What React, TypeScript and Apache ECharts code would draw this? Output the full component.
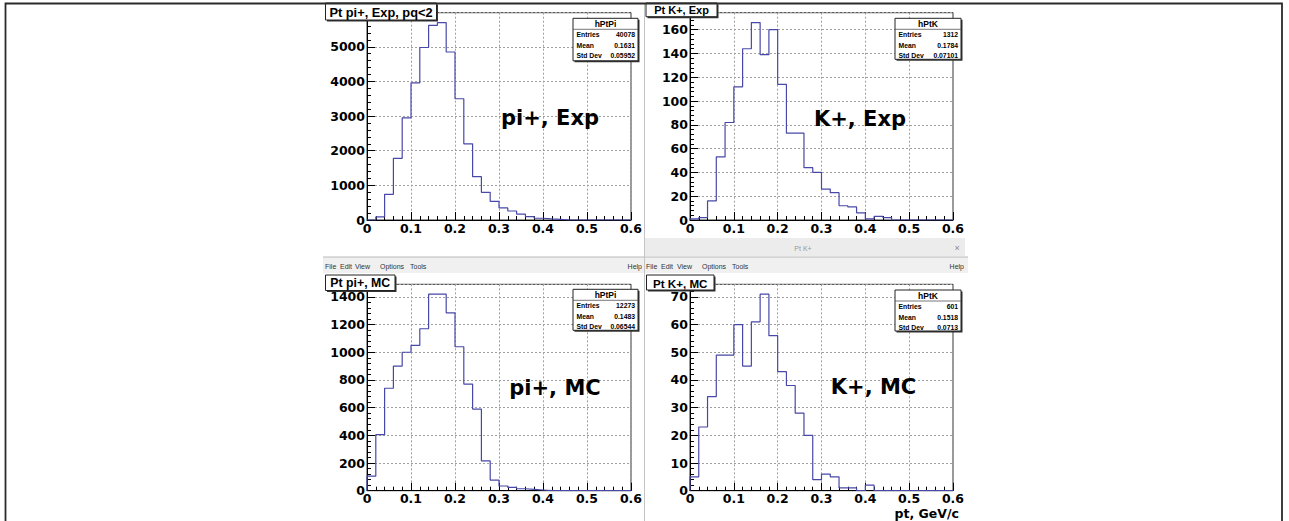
import React, { useEffect, useRef } from 'react';
import * as echarts from 'echarts';

// ---------------- data ----------------
const binEdges = [
  0, 0.02, 0.04, 0.06, 0.08, 0.1, 0.12, 0.14, 0.16, 0.18,
  0.2, 0.22, 0.24, 0.26, 0.28, 0.3, 0.32, 0.34, 0.36, 0.38,
  0.4, 0.42, 0.44, 0.46, 0.48, 0.5, 0.52, 0.54, 0.56, 0.58,
];
const xUpperEdge = 0.6;
const xTickStep = 0.1;

const piExpCounts = [
  0, 90, 740, 1780, 2950, 3960, 4980, 5620, 5700, 4850,
  3500, 2200, 1250, 800, 540, 350, 260, 170, 100, 50,
  30, 20, 0, 0, 0, 0, 0, 0, 0, 0,
];
const kExpCounts = [
  1, 2, 16, 53, 82, 112, 144, 166, 139, 160,
  114, 73, 73, 44, 40, 26, 23, 12, 11, 6,
  1, 3, 2, 0, 0, 0, 0, 0, 0, 0,
];
const piMcCounts = [
  105, 405, 740, 900, 1000, 1050, 1170, 1420, 1420, 1285,
  1040, 770, 590, 215, 77, 34, 24, 14, 10, 5,
  0, 0, 0, 0, 0, 0, 0, 0, 0, 0,
];
const kMcCounts = [
  5, 23, 34, 49, 49, 60, 45, 61, 71, 56,
  43, 38, 28, 20, 4, 6, 5, 1, 1, 0,
  2, 0, 0, 0, 0, 0, 0, 0, 0, 0,
];

const panelCounts = [piExpCounts, kExpCounts, piMcCounts, kMcCounts];
const panelTitles = ['Pt pi+, Exp, pq<2', 'Pt K+, Exp', 'Pt pi+, MC', 'Pt K+, MC'];
const panelLabels = ['pi+, Exp', 'K+, Exp', 'pi+, MC', 'K+, MC'];
const histNames = ['hPtPi', 'hPtK', 'hPtPi', 'hPtK'];
const statEntries = ['40078', '1312', '12273', '601'];
const statMeans = ['0.1631', '0.1784', '0.1483', '0.1518'];
const statStdDevs = ['0.05952', '0.07101', '0.06544', '0.0713'];
const statRowNames = ['Entries', 'Mean', 'Std Dev'];
const yMajorStep = [1000, 20, 200, 10];
const yMinorStep = [200, 4, 40, 2];
const xAxisTitle = 'pt, GeV/c';
const windowTitle = 'Pt K+';
const menuItems = ['File', 'Edit', 'View', 'Options', 'Tools'];
const helpItem = 'Help';

// ---------------- layout ----------------
const grids = [
  { left: 367, top: 12.7, width: 264, height: 207.3 },
  { left: 690, top: 12.7, width: 263, height: 207.3 },
  { left: 367, top: 284.3, width: 264, height: 206.4 },
  { left: 690, top: 284.3, width: 263, height: 206.4 },
];
const titleBoxes = [
  { x: 325.5, y: 3, w: 111, h: 17, fs: 12.8 },
  { x: 646, y: 3, w: 71, h: 13.7, fs: 11 },
  { x: 325.5, y: 275, w: 69.5, h: 15.5, fs: 12.3 },
  { x: 646.5, y: 275, w: 67.5, h: 15, fs: 11.6 },
];
const statBoxes = [
  { x: 573, y: 18.3, w: 65, h: 42.5 },
  { x: 895, y: 18.3, w: 66, h: 41 },
  { x: 573, y: 289.3, w: 65, h: 41 },
  { x: 895, y: 290, w: 66, h: 41 },
];
const labelPos = [
  { x: 550, y: 118 },
  { x: 860, y: 119 },
  { x: 555, y: 387.5 },
  { x: 873.5, y: 387 },
];
const leftMenuX = [325, 340, 355, 380, 410];
const rightMenuX = [646, 661, 677, 702, 732];

const LINE_COLOR = '#4848a8';
const GRID_COLOR = '#a0a0a0';
const BOLD_FONT = 'DejaVu Sans';

function histData(counts: number[]) {
  const pts: number[][] = [[binEdges[0], 0]];
  binEdges.forEach((e, i) => pts.push([e, counts[i]]));
  pts.push([xUpperEdge, 0]);
  return pts;
}

function boxWithShadow(x: number, y: number, w: number, h: number, z: number) {
  return [
    { type: 'rect', silent: true, z, shape: { x: x + 1.5, y: y + 1.5, width: w, height: h }, style: { fill: '#333' } },
    { type: 'rect', silent: true, z, shape: { x, y, width: w, height: h }, style: { fill: '#fff', stroke: '#222', lineWidth: 1 } },
  ];
}

function txt(text: string, x: number, y: number, opts: any) {
  return {
    type: 'text',
    silent: true,
    z: opts.z ?? 20,
    x,
    y,
    style: {
      text,
      fill: opts.fill ?? '#000',
      fontSize: opts.fontSize,
      fontFamily: opts.fontFamily ?? 'Liberation Sans',
      fontWeight: opts.fontWeight ?? 'normal',
      align: opts.align ?? 'left',
      verticalAlign: 'middle',
      textAlign: opts.align ?? 'left',
      textVerticalAlign: 'middle',
    },
  };
}

const plainNumber = (v: number) => String(Math.round(v * 1000) / 1000);

function buildOption() {
  const xAxis: any[] = [];
  const yAxis: any[] = [];
  const series: any[] = [];
  const graphic: any[] = [];

  const labelStyle = { color: '#000', fontFamily: BOLD_FONT, fontWeight: 'bold', fontSize: 12.5 };

  panelCounts.forEach((counts, i) => {
    const yMax = 1.05 * Math.max(...counts);
    xAxis.push({
      type: 'value',
      gridIndex: i,
      min: 0,
      max: xUpperEdge,
      interval: xTickStep,
      position: 'bottom',
      axisLine: { show: true, onZero: false, lineStyle: { color: '#000', width: 1 } },
      axisTick: { show: true, inside: true, length: 8, lineStyle: { color: '#000', width: 1 } },
      minorTick: { show: true, splitNumber: 5, length: 4, lineStyle: { color: '#000', width: 1 } },
      axisLabel: { ...labelStyle, margin: 1.5, formatter: plainNumber },
      splitLine: { show: true, lineStyle: { color: GRID_COLOR, type: [2, 2], width: 1 } },
    });
    yAxis.push({
      type: 'value',
      gridIndex: i,
      min: 0,
      max: yMax,
      interval: yMajorStep[i],
      position: 'left',
      axisLine: { show: true, onZero: false, lineStyle: { color: '#000', width: 1 } },
      axisTick: { show: true, inside: true, length: 8, lineStyle: { color: '#000', width: 1 } },
      axisLabel: { ...labelStyle, margin: 2, showMaxLabel: false, formatter: plainNumber },
      splitLine: { show: true, lineStyle: { color: GRID_COLOR, type: [2, 2], width: 1 } },
    });
    series.push({
      type: 'line',
      xAxisIndex: i,
      yAxisIndex: i,
      step: 'end',
      symbol: 'none',
      showSymbol: false,
      z: 5,
      lineStyle: { color: LINE_COLOR, width: 1.2 },
      data: histData(counts),
    });
  });
  // minor y ticks (second axis per grid)
  panelCounts.forEach((counts, i) => {
    const yMax = 1.05 * Math.max(...counts);
    yAxis.push({
      type: 'value',
      gridIndex: i,
      min: 0,
      max: yMax,
      interval: yMinorStep[i],
      position: 'left',
      offset: 0,
      axisLine: { show: false },
      axisTick: { show: true, inside: true, length: 4, lineStyle: { color: '#000', width: 1 } },
      axisLabel: { show: false },
      splitLine: { show: false },
    });
  });

  // ---- window chrome ----
  graphic.push({ type: 'rect', silent: true, z: 1, shape: { x: 645, y: 238, width: 320, height: 18 }, style: { fill: '#ececec' } });
  graphic.push(txt(windowTitle, 803, 248, { fontSize: 7, fill: '#999', align: 'center', z: 2 }));
  graphic.push(txt('×', 957, 248, { fontSize: 9, fill: '#888', align: 'center', z: 2 }));
  graphic.push({ type: 'rect', silent: true, z: 1, shape: { x: 323, y: 257, width: 645, height: 16 }, style: { fill: '#f0f0f0' } });
  graphic.push({ type: 'line', silent: true, z: 2, shape: { x1: 323, y1: 257, x2: 968, y2: 257 }, style: { stroke: '#b8b8b8', lineWidth: 1 } });
  graphic.push({ type: 'line', silent: true, z: 2, shape: { x1: 644.5, y1: 4, x2: 644.5, y2: 521 }, style: { stroke: '#c4c4c4', lineWidth: 1 } });
  menuItems.forEach((m, k) => {
    graphic.push(txt(m, leftMenuX[k], 266, { fontSize: 7, fill: '#333', z: 3 }));
    graphic.push(txt(m, rightMenuX[k], 266, { fontSize: 7, fill: '#333', z: 3 }));
  });
  graphic.push(txt(helpItem, 642, 266, { fontSize: 7, fill: '#333', align: 'right', z: 3 }));
  graphic.push(txt(helpItem, 964, 266, { fontSize: 7, fill: '#333', align: 'right', z: 3 }));

  // outer frame
  graphic.push({ type: 'rect', silent: true, z: 30, shape: { x: 5.5, y: 3.5, width: 1276.5, height: 600 }, style: { fill: 'none', stroke: '#2a2a2a', lineWidth: 1.8 } });

  // x-axis title of the bottom-right panel
  graphic.push(txt(xAxisTitle, 959, 513.5, { fontSize: 12.5, fontWeight: 'bold', fontFamily: BOLD_FONT, align: 'right' }));

  // ---- per panel boxes and labels ----
  panelCounts.forEach((_, i) => {
    const tb = titleBoxes[i];
    graphic.push(...boxWithShadow(tb.x, tb.y, tb.w, tb.h, 15));
    graphic.push(txt(panelTitles[i], tb.x + tb.w / 2, tb.y + tb.h / 2 + 0.5, { fontSize: tb.fs, fontWeight: 'bold', align: 'center' }));

    const sb = statBoxes[i];
    graphic.push(...boxWithShadow(sb.x, sb.y, sb.w, sb.h, 15));
    graphic.push({ type: 'line', silent: true, z: 16, shape: { x1: sb.x, y1: sb.y + 11, x2: sb.x + sb.w, y2: sb.y + 11 }, style: { stroke: '#555', lineWidth: 0.8 } });
    graphic.push(txt(histNames[i], sb.x + sb.w / 2, sb.y + 5.5, { fontSize: 8.5, fontWeight: 'bold', align: 'center' }));
    const vals = [statEntries[i], statMeans[i], statStdDevs[i]];
    const rowY = [16.5, 27, 37];
    statRowNames.forEach((r, k) => {
      graphic.push(txt(r, sb.x + 3.5, sb.y + rowY[k], { fontSize: 6.8, fontWeight: 'bold' }));
      graphic.push(txt(vals[k], sb.x + sb.w - 3, sb.y + rowY[k], { fontSize: 6.8, fontWeight: 'bold', align: 'right' }));
    });

    const lp = labelPos[i];
    graphic.push(txt(panelLabels[i], lp.x, lp.y, { fontSize: 21, fontWeight: 'bold', fontFamily: BOLD_FONT, align: 'center' }));
  });

  return {
    animation: false,
    backgroundColor: '#fff',
    grid: grids.map((g) => ({ ...g, show: true, borderColor: '#333', borderWidth: 1, backgroundColor: 'transparent', containLabel: false })),
    xAxis,
    yAxis,
    series,
    graphic,
  };
}

export default function App() {
  const ref = useRef<HTMLDivElement>(null);
  useEffect(() => {
    if (!ref.current) return;
    const chart = echarts.init(ref.current, undefined, { renderer: 'svg' });
    chart.setOption(buildOption() as any);
    return () => chart.dispose();
  }, []);
  return (
    <div
      ref={ref}
      style={{ position: 'fixed', left: 0, top: 0, width: 1289, height: 521, background: '#fff' }}
    />
  );
}
